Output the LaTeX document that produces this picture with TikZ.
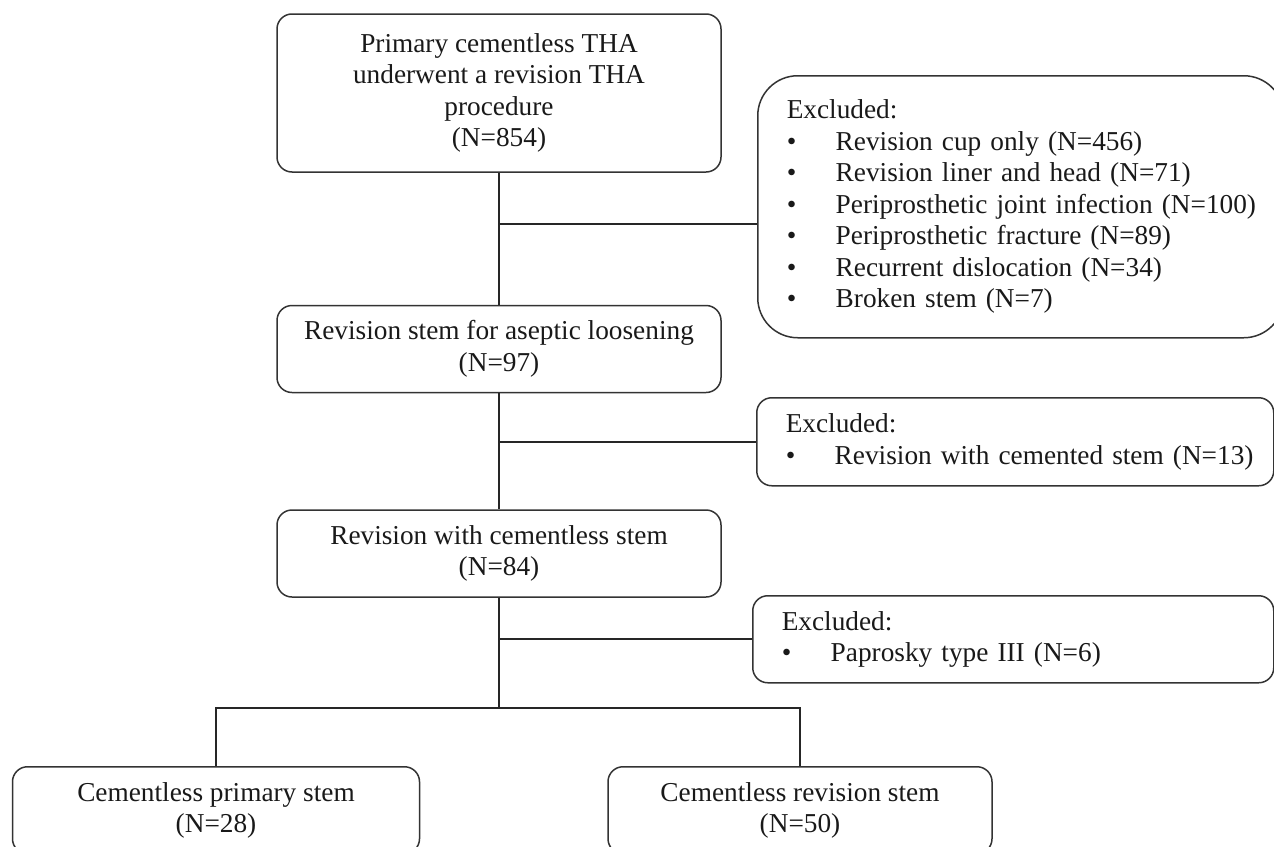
\documentclass[tikz,border=0pt]{standalone}
\usepackage{fontspec}
\setmainfont{Liberation Serif}
\usetikzlibrary{positioning}

% bullet line inside an exclusion box
\newcommand{\exitem}[1]{\makebox[0pt][l]{\makebox[49pt][l]{\textbullet}#1}}

\begin{document}
\begin{tikzpicture}[
  x=1pt, y=-1pt,
  font=\fontsize{27.3}{31.5}\selectfont,
  fbox/.style={
    rectangle, rounded corners=#1, draw=black!80, text=black!90,
    line width=1.5pt, inner sep=0pt
  },
  fbox/.default=15pt,
  mbox/.style={fbox, align=center, minimum width=444pt, minimum height=87pt},
  exbox/.style={fbox=#1, align=left, inner xsep=29pt, anchor=north west},
  exbox/.default=15pt,
  link/.style={draw=black!85, line width=2pt}
]

\useasboundingbox (0,0) rectangle (1274,846);
\clip (0,0) rectangle (1274,846);

% === Main flow ===
\node[mbox, minimum height=158pt] (tha) at (499,93) {
  Primary cementless THA\\
  underwent a revision THA\\
  procedure\\
  (N=854)
};

\node[mbox, below=132pt of tha] (aseptic) {
  Revision stem for aseptic loosening\\
  (N=97)
};

\node[mbox, below=116pt of aseptic] (cementless) {
  Revision with cementless stem\\
  (N=84)
};

% === Exclusions ===
\node[exbox=40pt, minimum width=526pt, minimum height=262pt,
      text width=468pt] (exc1) at (757,75) {
  Excluded:\\
  \exitem{Revision cup only (N=456)}\\
  \exitem{Revision liner and head (N=71)}\\
  \exitem{Periprosthetic joint infection (N=100)}\\
  \exitem{Periprosthetic fracture (N=89)}\\
  \exitem{Recurrent dislocation (N=34)}\\
  \exitem{Broken stem (N=7)}
};

\node[exbox, minimum width=517pt, minimum height=88pt,
      text width=459pt] (exc2) at (756,397) {
  Excluded:\\
  \exitem{Revision with cemented stem (N=13)}
};

\node[exbox, minimum width=521pt, minimum height=87pt,
      text width=463pt] (exc3) at (752,595) {
  Excluded:\\
  \exitem{Paprosky type III (N=6)}
};

% === Stem groups ===
\node[fbox, align=center, minimum width=407pt, minimum height=87pt,
      anchor=north] (primary) at (216,766) {
  Cementless primary stem\\
  (N=28)
};

\node[fbox, align=center, minimum width=384pt, minimum height=87pt,
      anchor=north] (revision) at (800,766) {
  Cementless revision stem\\
  (N=50)
};

% === Connectors ===
\path (exc1.west) ++(0,17) coordinate (e1);
\coordinate (split) at ([yshift=-110pt]cementless.south);

\draw[link] (tha.south) -- (aseptic.north);
\draw[link] (aseptic.south) -- (cementless.north);
\draw[link] (cementless.south) -- (split);
\draw[link] (e1 -| tha.south) -- (e1);
\draw[link] (aseptic.south |- exc2.west) -- (exc2.west);
\draw[link] (cementless.south |- exc3.west) -- (exc3.west);
\draw[link] (primary.north) |- (split) -| (revision.north);

\end{tikzpicture}
\end{document}
